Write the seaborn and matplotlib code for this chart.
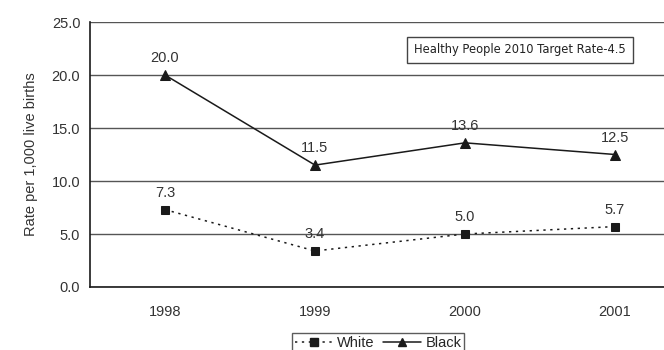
import numpy as np
import pandas as pd
import seaborn as sns
import matplotlib.pyplot as plt
from matplotlib.lines import Line2D

# data
years = ['1998', '1999', '2000', '2001']
white = [7.3, 3.4, 5.0, 5.7]
black = [20.0, 11.5, 13.6, 12.5]
y_ticks = [0, 5, 10, 15, 20, 25]

df = pd.DataFrame({'pos': list(range(len(years))) * 2,
                   'rate': white + black,
                   'group': ['White'] * len(years) + ['Black'] * len(years)})

sns.set_style('white')
plt.rcParams['font.family'] = ['Liberation Sans', 'DejaVu Sans']

fig = plt.figure(figsize=(6.64, 3.5), dpi=100)
# axes deliberately runs past the right edge, like the cropped original
ax = fig.add_axes([90 / 664, 63 / 350, 600 / 664, 265 / 350])

dark = '#1a1a1a'
fs = 10.5
sns.lineplot(data=df[df.group == 'White'], x='pos', y='rate', ax=ax, color=dark,
             lw=1.1, linestyle=(0, (1.5, 3)), marker='s', markersize=6,
             markeredgecolor=dark, legend=False)
sns.lineplot(data=df[df.group == 'Black'], x='pos', y='rate', ax=ax, color=dark,
             lw=1.1, marker='^', markersize=6.5, markeredgecolor=dark, legend=False)

# value labels
for i, v in enumerate(white):
    ax.annotate(f'{v:.1f}', (i, v), xytext=(0, 7), textcoords='offset points',
                ha='center', va='bottom', fontsize=fs, color='#333333')
for i, v in enumerate(black):
    ax.annotate(f'{v:.1f}', (i, v), xytext=(0, 7), textcoords='offset points',
                ha='center', va='bottom', fontsize=fs, color='#333333')

ax.set_xlim(-0.5, 3.5)
ax.set_ylim(0, 25)
ax.set_yticks(y_ticks)
ax.set_yticklabels([f'{t:.1f}' for t in y_ticks])
ax.set_xticks(np.arange(-0.5, 4.0, 1.0))
ax.set_xticklabels([])
ax.set_xticks(range(len(years)), minor=True)
ax.set_xticklabels(years, minor=True)
ax.tick_params(axis='x', which='minor', length=0, pad=13, labelsize=fs, colors='#333333')
ax.tick_params(axis='x', which='major', length=4, width=1, color=dark, direction='out')
ax.tick_params(axis='y', length=4, width=1, color=dark, direction='out', pad=3,
               labelsize=fs, labelcolor='#333333')
ax.yaxis.grid(True, color='#555555', lw=1)
ax.set_axisbelow(True)
ax.set_xlabel('')
ax.set_ylabel('Rate per 1,000 live births', fontsize=fs, color='#333333', labelpad=10)

for s in ['top', 'right']:
    ax.spines[s].set_visible(False)
for s in ['left', 'bottom']:
    ax.spines[s].set_color(dark)
    ax.spines[s].set_linewidth(1.2)

# target rate box
fig.text(520 / 664, 1 - 50 / 350, 'Healthy People 2010 Target Rate-4.5',
         ha='center', va='center', fontsize=8.3, family=['DejaVu Sans'], color='#222222',
         bbox=dict(boxstyle='square,pad=0.6', fc='white', ec='#444444', lw=1))

# legend below the plot
handles = [Line2D([], [], color=dark, lw=1.1, linestyle=(0, (1.5, 3)), marker='s', markersize=6),
           Line2D([], [], color=dark, lw=1.1, marker='^', markersize=6)]
fig.legend(handles, ['White', 'Black'], loc='upper center', bbox_to_anchor=(378 / 664, 1 - 326 / 350),
           ncol=2, frameon=True, fancybox=False, edgecolor='#333333', fontsize=fs,
           handlelength=2.6, handletextpad=0.3, columnspacing=0.6, borderpad=0.2)

fig.savefig('out.png', dpi=100)
